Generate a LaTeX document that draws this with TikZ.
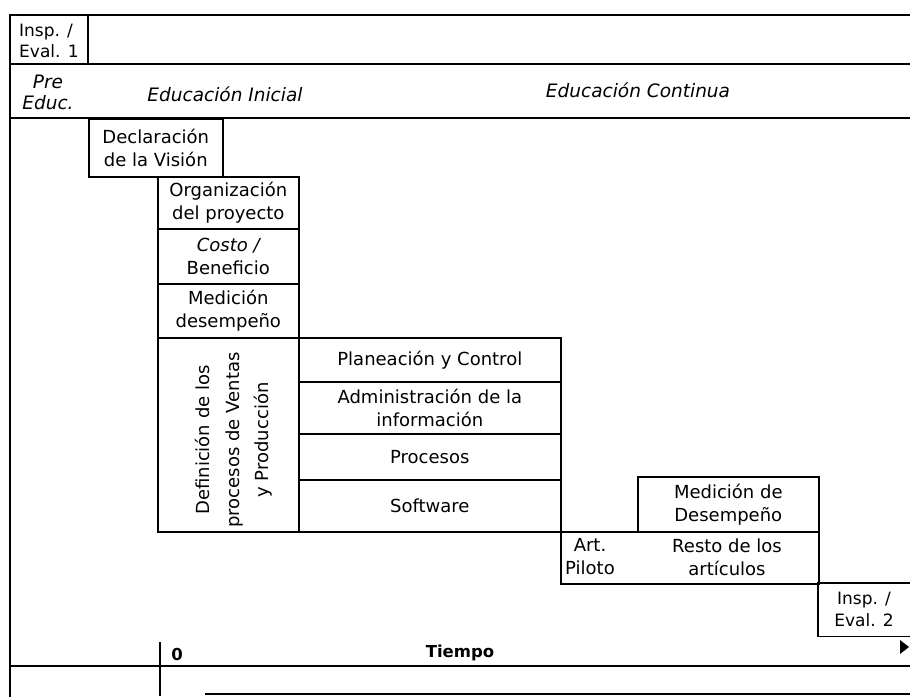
\documentclass[tikz,border=0pt]{standalone}
\usepackage{fontspec}
\setmainfont{DejaVu Sans}
\begin{document}
\begin{tikzpicture}[x=1pt,y=-1pt,
  frame/.style={line width=2.2pt,line cap=rect},
  cell/.style={draw,line width=1.6pt,inner sep=0pt,anchor=north west,align=center,
    font=\fontsize{18}{23}\selectfont},
  txt/.style={inner sep=0pt,align=center,font=\fontsize{18}{23}\selectfont},
  ital/.style={txt,font=\fontsize{18.5}{21}\selectfont\itshape},
  axis/.style={line width=2.4pt},
  axlabel/.style={inner sep=0pt,font=\fontsize{16.5}{18}\selectfont\bfseries}]
\useasboundingbox (0,0) rectangle (910,696);

% outer frame and header rows
\draw[frame] (910,15) -- (10,15) -- (10,696);
\draw[frame] (10,64) -- (910,64);
\draw[frame] (10,118) -- (910,118);
\draw[line width=1.6pt] (88,15) -- (88,64);

\node[txt,align=left,anchor=west,font=\fontsize{17}{21}\selectfont] (insp1) at (19,41) {Insp. /\\Eval. 1};
\node[ital] (pre) at (48,92) {Pre\\Educ.};
\node[ital] (inicial) at (225,94) {Educación Inicial};
\node[ital] (continua) at (638,90) {Educación Continua};

% staircase of activities
\node[cell,minimum width=134pt,minimum height=58pt] (vision) at (88,118) {Declaración\\de la Visión};
\node[cell,minimum width=141pt,minimum height=52pt] (org) at (157,176) {Organización\\del proyecto};
\node[cell,minimum width=141pt,minimum height=55pt] (costo) at (157,228) {\itshape Costo /\\Beneficio};
\node[cell,minimum width=141pt,minimum height=54pt] (medicion) at (157,283) {Medición\\desempeño};
\node[cell,minimum width=141pt,minimum height=194pt] (defin) at (157,337) {};
\node[txt,rotate=90,font=\fontsize{18}{29.5}\selectfont] (defintxt) at (234,440)
  {Definición de los\\procesos de Ventas\\y Producción};

\node[cell,minimum width=262pt,minimum height=44pt] (plan) at (298,337) {Planeación y Control};
\node[cell,minimum width=262pt,minimum height=52pt] (admin) at (298,381) {Administración de la\\información};
\node[cell,minimum width=262pt,minimum height=46pt] (proc) at (298,433) {Procesos};
\node[cell,minimum width=262pt,minimum height=52pt] (soft) at (298,479) {Software};

\node[cell,minimum width=181pt,minimum height=55pt] (medD) at (637,476) {Medición de\\Desempeño};
\node[cell,minimum width=258pt,minimum height=52pt] (artrow) at (560,531) {};
\node[txt] (art) at (590,557) {Art.\\Piloto};
\node[txt] (resto) at (727,557) {Resto de los\\artículos};

\node[cell,draw=none,minimum width=92pt,minimum height=52pt] (insp2) at (818,583) {};
\node[txt,font=\fontsize{17}{22}\selectfont] (insp2txt) at (864,609) {Insp. /\\Eval. 2};
\draw[line width=1.6pt] (insp2.north east) -- (insp2.north west) -- (insp2.south west) -- (insp2.south east);

% time axis
\coordinate (axL) at (10,666);
\coordinate (axR) at (910,666);
\coordinate (zeroT) at (160,642);
\coordinate (zeroB) at (160,696);
\coordinate (baseL) at (205,694);
\coordinate (baseR) at (910,694);
\draw[axis] (axL) -- (axR);
\draw[axis] (zeroT) -- (zeroB);
\draw[line width=2pt] (baseL) -- (baseR);
\node[axlabel] (zero) at (177,654) {0};
\node[axlabel] (tiempo) at (460,653) {Tiempo};
\fill (900,640) -- (909,647) -- (900,654) -- cycle;
\end{tikzpicture}
\end{document}
